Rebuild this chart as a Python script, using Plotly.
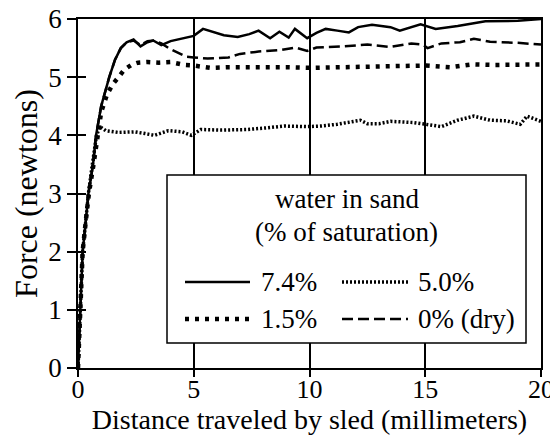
import plotly.graph_objects as go

# ---- data ----
series_names = ["7.4%", "5.0%", "1.5%", "0% (dry)"]

x_74 = [0, 0.05, 0.1, 0.2, 0.33, 0.45, 0.65, 0.78, 1.0, 1.35, 1.6, 1.85, 2.1, 2.4, 2.7, 3.0, 3.25, 3.6,
        4.0, 4.5, 5.0, 5.4, 5.8, 6.3, 6.9, 7.4, 7.8, 8.3, 8.7, 9.1, 9.37, 9.9, 10.3, 10.7, 11.2, 11.7,
        12.1, 12.7, 13.5, 13.9, 14.8, 15.45, 16.4, 17.6, 19.0, 20.0]
y_74 = [0, 0.5, 1.0, 2.0, 2.5, 3.0, 3.5, 4.0, 4.5, 5.0, 5.3, 5.5, 5.6, 5.65, 5.53, 5.6, 5.63, 5.55,
        5.62, 5.66, 5.71, 5.83, 5.78, 5.72, 5.69, 5.74, 5.8, 5.67, 5.78, 5.68, 5.83, 5.67, 5.76, 5.83,
        5.8, 5.77, 5.86, 5.9, 5.86, 5.8, 5.91, 5.83, 5.88, 5.96, 5.97, 6.0]

x_50 = [0, 0.05, 0.1, 0.2, 0.33, 0.45, 0.62, 0.8, 0.95, 1.2, 1.73, 2.45, 2.9, 3.3, 3.9, 4.5, 4.9, 5.3,
        6.2, 7.3, 8.2, 8.9, 9.9, 10.5, 11.2, 12.2, 12.5, 13.0, 13.5, 14.5, 15.7, 16.4, 17.1, 17.8,
        18.5, 19.1, 19.4, 20.0]
y_50 = [0, 0.5, 1.0, 2.0, 2.5, 3.0, 3.5, 4.0, 4.15, 4.08, 4.05, 4.06, 4.03, 4.0, 4.08, 4.06, 4.0, 4.1,
        4.09, 4.1, 4.13, 4.16, 4.15, 4.16, 4.19, 4.26, 4.2, 4.2, 4.24, 4.22, 4.15, 4.26, 4.33, 4.26,
        4.25, 4.19, 4.33, 4.24]

x_15 = [0, 0.05, 0.1, 0.2, 0.33, 0.47, 0.67, 0.82, 1.0, 1.25, 1.5, 1.75, 2.0, 2.3, 2.6, 3.0, 3.5, 4.0,
        4.6, 5.0, 5.7, 6.5, 8.0, 9.0, 10.0, 11.0, 12.1, 13.0, 14.0, 15.0, 16.1, 17.0, 18.0, 19.0, 20.0]
y_15 = [0, 0.5, 1.0, 2.0, 2.5, 3.0, 3.5, 3.95, 4.4, 4.7, 4.88, 5.0, 5.13, 5.21, 5.25, 5.26, 5.25, 5.26,
        5.21, 5.2, 5.16, 5.17, 5.18, 5.17, 5.16, 5.17, 5.18, 5.18, 5.19, 5.2, 5.17, 5.22, 5.21, 5.21, 5.22]

x_0 = [0, 0.05, 0.1, 0.2, 0.33, 0.45, 0.65, 0.78, 1.0, 1.35, 1.6, 1.85, 2.1, 2.4, 2.7, 3.0, 3.3, 3.6,
       4.0, 4.4, 4.7, 5.0, 5.6, 6.5, 7.0, 7.8, 8.8, 9.4, 9.9, 10.3, 11.5, 12.5, 13.5, 14.4, 14.9, 15.1,
       15.7, 16.5, 17.1, 17.8, 19.0, 20.0]
y_0 = [0, 0.5, 1.0, 2.0, 2.5, 3.0, 3.5, 4.0, 4.5, 5.0, 5.3, 5.5, 5.6, 5.63, 5.55, 5.62, 5.63, 5.58,
       5.48, 5.4, 5.35, 5.34, 5.32, 5.34, 5.4, 5.44, 5.47, 5.51, 5.45, 5.51, 5.53, 5.56, 5.52, 5.58,
       5.56, 5.5, 5.58, 5.6, 5.66, 5.61, 5.59, 5.56]

x_ticks = [0, 5, 10, 15, 20]
y_ticks = [0, 1, 2, 3, 4, 5, 6]

FONT = "Liberation Serif"
styles = {
    "7.4%": dict(width=2.5, dash="solid"),
    "5.0%": dict(width=3.5, dash="2px,2px"),
    "1.5%": dict(width=4.5, dash="4px,6px"),
    "0% (dry)": dict(width=2.5, dash="11px,5px"),
}

fig = go.Figure()
for name, xs, ys in [("7.4%", x_74, y_74), ("5.0%", x_50, y_50),
                     ("1.5%", x_15, y_15), ("0% (dry)", x_0, y_0)]:
    fig.add_trace(go.Scatter(x=xs, y=ys, mode="lines", name=name, showlegend=False,
                             line=dict(color="black", **styles[name])))

# helper trace for the inner y ticks axis
fig.add_trace(go.Scatter(x=[None], y=[None], yaxis="y2", showlegend=False, hoverinfo="skip"))

# ---- custom legend box (positions given relative to the plot area) ----
def px2paper_x(p):
    return (p - 78) / 463.0

def px2paper_y(p):
    return (368 - p) / 349.0

LEG_SIZE = 27
shapes = [dict(type="rect", xref="paper", yref="paper",
               x0=px2paper_x(167), x1=px2paper_x(526), y0=px2paper_y(343), y1=px2paper_y(175),
               fillcolor="white", line=dict(color="black", width=1.5), layer="above")]
annotations = [
    dict(text="water in sand", x=px2paper_x(347), y=px2paper_y(199)),
    dict(text="(% of saturation)", x=px2paper_x(346), y=px2paper_y(232)),
]
for a in annotations:
    a.update(xref="paper", yref="paper", showarrow=False, xanchor="center", yanchor="middle",
             font=dict(family=FONT, size=LEG_SIZE, color="black"))

positions = {"7.4%": (185, 250, 259, 282), "5.0%": (342, 408, 416, 282),
             "1.5%": (185, 250, 259, 319), "0% (dry)": (342, 408, 416, 319)}
for name in series_names:
    sx0, sx1, tx, ty = positions[name]
    st = styles[name]
    shapes.append(dict(type="line", xref="paper", yref="paper",
                       x0=px2paper_x(sx0), x1=px2paper_x(sx1), y0=px2paper_y(ty), y1=px2paper_y(ty),
                       line=dict(color="black", width=st["width"], dash=st["dash"]), layer="above"))
    annotations.append(dict(text=name, xref="paper", yref="paper", x=px2paper_x(tx), y=px2paper_y(ty),
                            showarrow=False, xanchor="left", yanchor="middle",
                            font=dict(family=FONT, size=LEG_SIZE, color="black")))

# the page body has an 8px default margin, so the figure is 8px smaller than the window
fig.update_layout(
    width=550, height=427,
    margin=dict(l=70, r=17, t=11, b=67),
    paper_bgcolor="white", plot_bgcolor="white",
    font=dict(family=FONT, size=27, color="black"),
    xaxis=dict(range=[0, 20], tickvals=x_ticks, ticktext=[str(v) for v in x_ticks], automargin=False,
               showline=True, linecolor="black", linewidth=1.5, mirror=True,
               ticks="outside", ticklen=7, tickwidth=1.5, tickcolor="black",
               ticklabelstandoff=-10, ticklabeloverflow="allow",
               showgrid=True, gridcolor="black", gridwidth=1.5, zeroline=False,
               tickfont=dict(family=FONT, size=26),
               title=dict(text="Distance traveled by sled (millimeters)", standoff=16,
                          font=dict(family=FONT, size=28))),
    yaxis=dict(range=[0, 6], tickvals=y_ticks, ticktext=[str(v) for v in y_ticks], automargin=False,
               showline=True, linecolor="black", linewidth=1.5, mirror=True,
               ticks="outside", ticklen=9, tickwidth=1.5, tickcolor="black",
               ticklabeloverflow="allow",
               showgrid=False, zeroline=False,
               tickfont=dict(family=FONT, size=27),
               title=dict(text="Force (newtons)", standoff=22, font=dict(family=FONT, size=32))),
    yaxis2=dict(range=[0, 6], overlaying="y", side="left", tickvals=y_ticks, showticklabels=False,
                ticks="inside", ticklen=8, tickwidth=1.5, tickcolor="black", automargin=False,
                showgrid=False, zeroline=False, showline=False),
    shapes=shapes,
    annotations=annotations,
)

fig.write_html("out.html")
